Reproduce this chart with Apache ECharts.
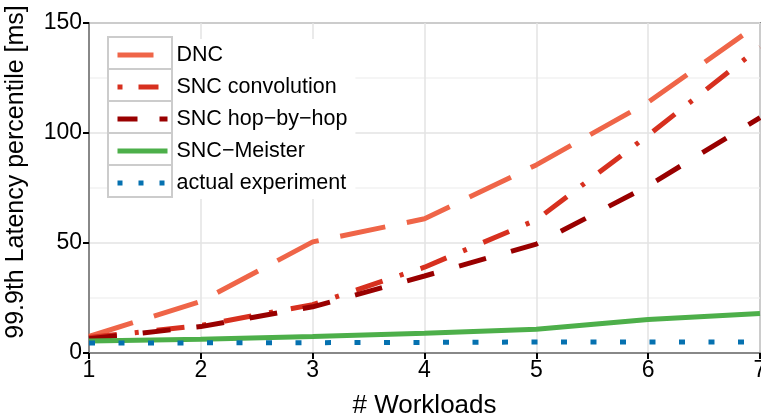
<!DOCTYPE html>
<html>
<head>
<meta charset="utf-8">
<style>
  html, body { margin: 0; padding: 0; background: #fff; }
  #chart { width: 761px; height: 415px; }
</style>
<script src="https://cdn.jsdelivr.net/npm/echarts@6/dist/echarts.min.js"></script>
</head>
<body>
<div id="chart"></div>
<script>
// Number of concurrent workloads on the x axis
const workloads = [1, 2, 3, 4, 5, 6, 7];

// 99.9th percentile latency [ms] for each method
const dnc = [7.5, 23.5, 50.5, 61, 85.5, 114, 150];
const sncConvolution = [7, 12.5, 22, 39, 60.5, 99, 139];
const sncHopByHop = [6.5, 12, 21, 35, 49.5, 76, 107];
const sncMeister = [5.5, 6.2, 7.5, 9, 10.8, 15.2, 18];
const actualExperiment = [4.5, 4.6, 4.7, 4.8, 5, 5, 5];

const seriesNames = ['DNC', 'SNC convolution', 'SNC hop\u2212by\u2212hop', 'SNC\u2212Meister', 'actual experiment'];
const yTicks = [0, 50, 100, 150];

const FONT = '"Liberation Sans", Arial, Helvetica, sans-serif';

const styles = [
  { color: '#ef6548', dash: [46, 22], legendDash: [36, 100] },
  { color: '#d7301f', dash: [28, 18, 4, 18], legendDash: [5, 16, 20, 100] },
  { color: '#990000', dash: [28, 26], legendDash: [20, 22, 8, 100] },
  { color: '#4daf4a', dash: 'solid', legendDash: 'solid' },
  { color: '#0571b0', dash: [6, 23.5], legendDash: [5, 16] }
];

const values = [dnc, sncConvolution, sncHopByHop, sncMeister, actualExperiment];

const series = seriesNames.map((name, i) => ({
  name: name,
  type: 'line',
  data: workloads.map((w, j) => [w, values[i][j]]),
  showSymbol: false,
  symbol: 'none',
  smooth: false,
  color: styles[i].color,
  lineStyle: { width: 5, type: styles[i].dash, cap: 'butt', color: styles[i].color },
  emphasis: { disabled: true },
  z: 3
}));

// Boxes framing each legend key
const cellRects = seriesNames.map((n, i) => ({
  type: 'rect',
  shape: { x: 108, y: 37 + i * 32, width: 64, height: 32 },
  style: { fill: 'none', stroke: '#cccccc', lineWidth: 2 },
  z: 100
}));

const chart = echarts.init(document.getElementById('chart'), null, { renderer: 'canvas' });
chart.setOption({
  animation: false,
  backgroundColor: '#ffffff',
  textStyle: { fontFamily: FONT },
  grid: {
    left: 89, right: 1, top: 23, bottom: 62,
    containLabel: false,
    outerBoundsMode: 'none',
    show: true, borderColor: '#888888', borderWidth: 2, backgroundColor: 'transparent'
  },
  legend: {
    orient: 'vertical',
    left: 108, top: 39,
    padding: [0, 8, 0, 7],
    itemGap: 0,
    itemWidth: 50,
    itemHeight: 12,
    backgroundColor: '#ffffff',
    textStyle: { fontSize: 21.5, color: '#000', fontFamily: FONT, lineHeight: 32, padding: [0, 0, 0, 4] },
    data: seriesNames.map((n, i) => ({
      name: n,
      itemStyle: { color: 'rgba(0,0,0,0)', borderWidth: 0, opacity: 0 },
      lineStyle: { width: 5, type: styles[i].legendDash, cap: 'butt', color: styles[i].color }
    })),
    z: 50
  },
  graphic: cellRects,
  xAxis: {
    type: 'value',
    min: 1, max: 7, interval: 1,
    name: '# Workloads',
    nameLocation: 'middle',
    nameGap: 40,
    nameTextStyle: { fontSize: 26, color: '#000', fontFamily: FONT },
    axisLine: { show: true, lineStyle: { color: '#888888', width: 2 } },
    axisTick: { show: true, inside: false, length: 6, lineStyle: { color: '#000', width: 2 } },
    axisLabel: { fontSize: 23, color: '#000', margin: 6, fontFamily: FONT },
    splitLine: { show: true, lineStyle: { color: '#e3e3e3', width: 1.5 } }
  },
  yAxis: {
    type: 'value',
    min: 0, max: 150, interval: 50,
    name: '99.9th Latency percentile [ms]',
    nameLocation: 'middle',
    nameGap: 60,
    nameTextStyle: { fontSize: 25, color: '#000', fontFamily: FONT, padding: [0, 0, 0, 32] },
    axisLine: { show: true, lineStyle: { color: '#888888', width: 2 } },
    axisTick: { show: true, inside: false, length: 6, lineStyle: { color: '#000', width: 2 } },
    axisLabel: { fontSize: 23, color: '#000', margin: 7, fontFamily: FONT,
      formatter: v => (yTicks.indexOf(v) >= 0 ? String(v) : '') },
    splitLine: { show: true, lineStyle: { color: '#e3e3e3', width: 1.5 } },
    minorTick: { show: false, splitNumber: 2 },
    minorSplitLine: { show: true, lineStyle: { color: '#f2f2f2', width: 1.5 } }
  },
  series: series
});
</script>
</body>
</html>
